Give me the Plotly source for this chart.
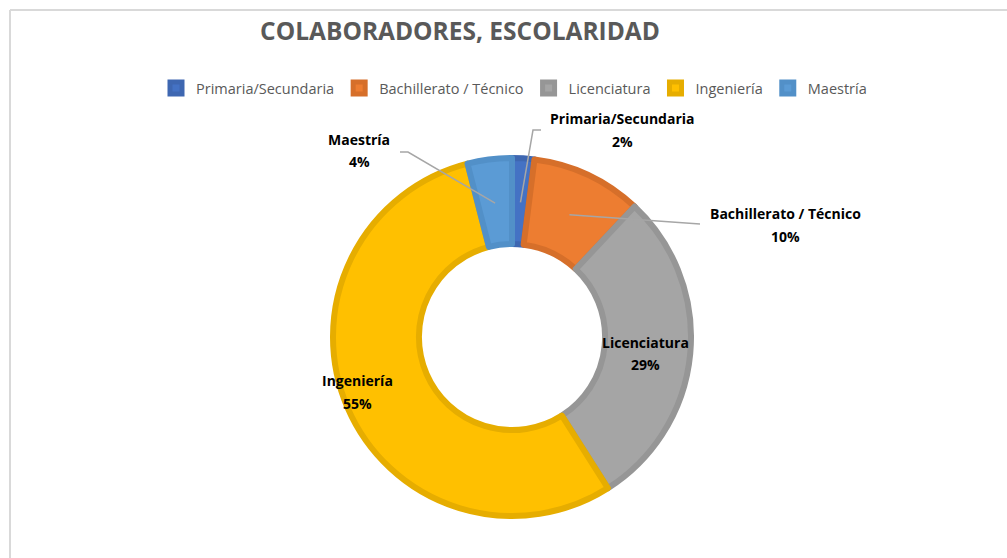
import math
import plotly.graph_objects as go

# ---- data ----
categories = ["Primaria/Secundaria", "Bachillerato / Técnico", "Licenciatura", "Ingeniería", "Maestría"]
values = [2, 10, 29, 55, 4]
title_text = "COLABORADORES, ESCOLARIDAD"

# ---- styles ----
fill_colors = ["#4472C4", "#ED7D31", "#A5A5A5", "#FFC000", "#5B9BD5"]
line_colors = ["#3E67B1", "#D66F2A", "#969696", "#E6AD00", "#5290C8"]

W, H = 1007, 558
CX, CY = 512, 337          # pie centre (px)
R = 179                    # pie radius (px)
HOLE = 0.52
R_MID = 135                # radius where leader lines end

def px(x, y):
    return x / W, 1 - y / H

fig = go.Figure()
fig.add_trace(go.Pie(
    labels=categories, values=values, sort=False, direction="clockwise", rotation=0,
    hole=HOLE, textinfo="none", hoverinfo="label+percent",
    marker=dict(colors=fill_colors, line=dict(color=line_colors, width=6)),
    domain=dict(x=[(CX - R) / W, (CX + R) / W], y=[(H - CY - R) / H, (H - CY + R) / H]),
))

total = sum(values)
pcts = [f"{round(v / total * 100)}%" for v in values]

# label text positions (px): name line, pct line
label_pos = {
    0: (622, 118, 141),
    1: (785, 214, 236),
    2: (645, 342, 364),
    3: (357, 381, 403),
    4: (359, 140, 162),
}
# leader line start points (px) for outside labels (list of points before slice point)
leader_start = {
    0: [(541, 130), (533, 130)],
    1: [(700, 224)],
    4: [(400, 152), (408, 152)],
}

shapes = []
cum = 0
for i, v in enumerate(values):
    mid = (cum + v / 2) / total * 2 * math.pi
    cum += v
    if i in leader_start:
        ex = CX + R_MID * math.sin(mid)
        ey = CY - R_MID * math.cos(mid)
        pts = leader_start[i] + [(ex, ey)]
        path = "M " + " L ".join(f"{px(x, y)[0]:.5f},{px(x, y)[1]:.5f}" for x, y in pts)
        shapes.append(dict(type="path", xref="paper", yref="paper", path=path,
                           line=dict(color="#A6A6A6", width=1.5)))

annotations = []
for i in range(len(categories)):
    x, y1, y2 = label_pos[i]
    for txt, yy in ((categories[i], y1), (pcts[i], y2)):
        xp, yp = px(x, yy)
        annotations.append(dict(x=xp, y=yp, xref="paper", yref="paper", text=f"<b>{txt}</b>",
                                showarrow=False, xanchor="center", yanchor="middle",
                                font=dict(family="Open Sans", size=14, color="#000000")))

# chart frame (top and left edges)
shapes.append(dict(type="line", xref="paper", yref="paper", x0=px(10, 10)[0], y0=px(10, 10)[1],
                   x1=1, y1=px(10, 10)[1], line=dict(color="#D9D9D9", width=2)))
shapes.append(dict(type="line", xref="paper", yref="paper", x0=px(10, 10)[0], y0=px(10, 10)[1],
                   x1=px(10, 10)[0], y1=0, line=dict(color="#D9D9D9", width=2)))

fig.update_layout(
    width=W, height=H,
    margin=dict(l=0, r=0, t=0, b=0),
    paper_bgcolor="white", plot_bgcolor="white",
    title=dict(text=f"<b>{title_text}</b>", x=460 / W, xanchor="center", y=1 - 31 / H, yanchor="middle",
               font=dict(family="Open Sans", size=24.5, color="#595959")),
    legend=dict(orientation="h", x=514 / W, xanchor="center", y=1 - 88 / H, yanchor="middle",
                font=dict(family="Open Sans", size=14.5, color="#595959"), itemclick=False),
    shapes=shapes, annotations=annotations,
    showlegend=True,
)

fig.write_html("out.html", config={"displayModeBar": False},
               post_script="document.body.style.margin='0';document.body.style.overflow='hidden';")
